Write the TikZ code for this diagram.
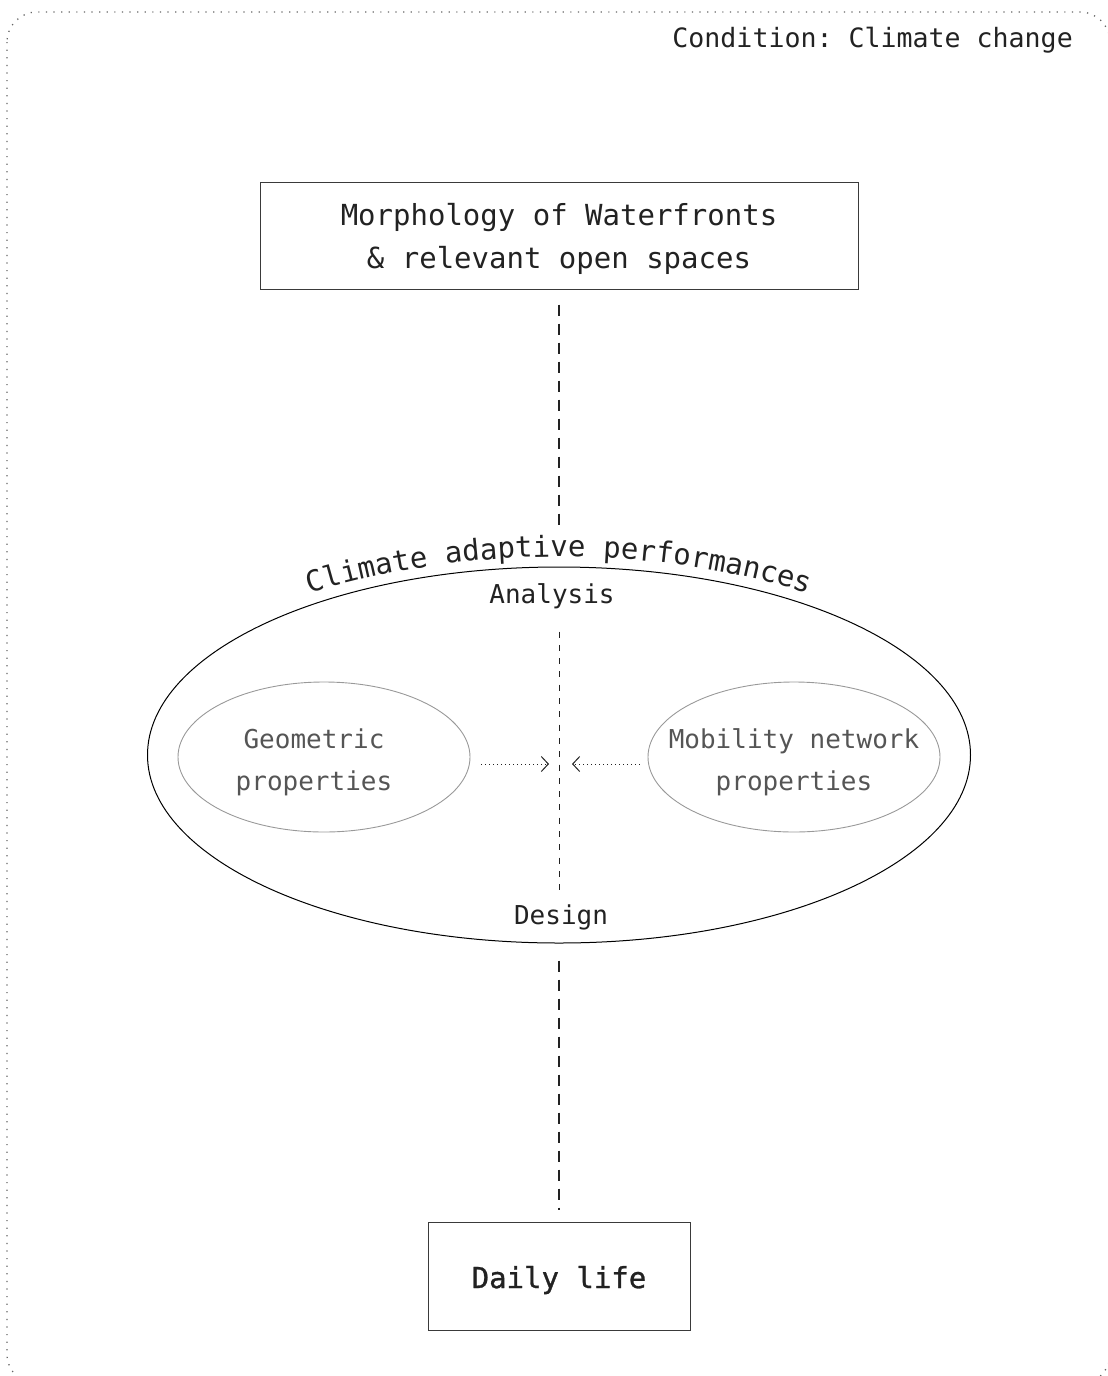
\documentclass[tikz,border=0pt]{standalone}
\usepackage{fontspec}
\setmonofont{DejaVu Sans Mono}
\newfontfamily\semimono[FakeBold=1]{DejaVu Sans Mono}
\usetikzlibrary{shapes.geometric,arrows.meta,decorations.text,calc}

\definecolor{inkdark}{HTML}{222222}
\definecolor{boxline}{HTML}{3A3A3A}
\definecolor{softline}{HTML}{999999}
\definecolor{softtext}{HTML}{555555}
\definecolor{framedots}{HTML}{666666}

\tikzset{
  x=1pt, y=1pt,
  mono/.style={font=\ttfamily\fontsize{#1}{43}\selectfont, text=inkdark},
  framebox/.style={draw=framedots, line width=1.3pt, dash pattern=on 1.2pt off 6.4pt, rounded corners=30pt},
  titlebox/.style={draw=boxline, line width=1pt, inner sep=0pt},
  boxtext/.style={mono=29, align=center, inner sep=0pt},
  outerring/.style={draw=black, line width=1pt, ellipse, inner sep=0pt},
  innerring/.style={draw=softline, line width=0.9pt, ellipse, inner sep=0pt,
    minimum width=292pt, minimum height=150pt},
  softlabel/.style={align=center, inner sep=0pt,
    font=\ttfamily\fontsize{26}{42}\selectfont, text=softtext},
  label/.style={mono=26, inner sep=0pt},
  longdash/.style={draw=inkdark, line width=1.2pt, dash pattern=on 11pt off 8pt},
  shortdash/.style={draw=inkdark, line width=0.9pt, dash pattern=on 6pt off 7.3pt},
  dotarrow/.style={draw=inkdark, line width=1pt, dash pattern=on 1pt off 3pt,
    -{Straight Barb[length=7pt,width=15pt,line width=1pt]}},
}

\begin{document}
\begin{tikzpicture}
\useasboundingbox (0,0) rectangle (1108,-1376);

% dotted page frame
\draw[framebox] (7,-12) rectangle (1110,-1384);

% condition label
\node[mono=26.6, anchor=east, inner sep=0pt] (cond) at (1073,-40) {Condition: Climate change};

% top and bottom boxes
\node[titlebox, minimum width=598pt, minimum height=107pt] (morph) at (559,-235.5) {};
\node[boxtext] (morphtext) at ([yshift=-3pt]morph.center)
  {Morphology of Waterfronts\\\& relevant open spaces};
\node[titlebox, minimum width=262pt, minimum height=108pt] (daily) at (559,-1276) {};
\node[boxtext, font=\semimono\fontsize{29}{43}\selectfont] (dailytext) at ([yshift=-4pt]daily.center) {Daily life};

% performance ellipse
\node[outerring, minimum width=823pt, minimum height=376pt] (perf) at (559,-755) {};

% curved title over the ellipse
\path[decorate, decoration={text along path, text align=center,
      text={|\ttfamily\fontsize{29}{29}\selectfont\color{inkdark}|Climate adaptive performances}}]
  (559,-755) ++(150:430 and 198) arc[start angle=150, end angle=30, x radius=430, y radius=198];

% inner property ellipses
\node[innerring] (geo) at (324,-757) {};
\node[softlabel] (geotext) at ([xshift=-10pt,yshift=-5pt]geo.center) {Geometric\\properties};
\node[innerring] (mob) at (794,-757) {};
\node[softlabel] (mobtext) at ([yshift=-5pt]mob.center) {Mobility network\\properties};

% analysis / design labels
\node[label] (ana) at (552,-596) {Analysis};
\node[label] (des) at (561,-917) {Design};

% vertical axis
\coordinate (mid) at (559,-764);
\draw[longdash] ([yshift=-15pt]morph.south) -- ([yshift=42pt]perf.north);
\draw[shortdash] ([yshift=-65pt]perf.north) -- ([yshift=48pt]perf.south);
\draw[longdash] ([yshift=-17pt]perf.south) -- ([yshift=12pt]daily.north);

% converging arrows
\draw[dotarrow] ($(geo.east |- mid)+(11,0)$) -- ($(mid)+(-10,0)$);
\draw[dotarrow] ($(mob.west |- mid)+(-8,0)$) -- ($(mid)+(13,0)$);
\end{tikzpicture}
\end{document}
